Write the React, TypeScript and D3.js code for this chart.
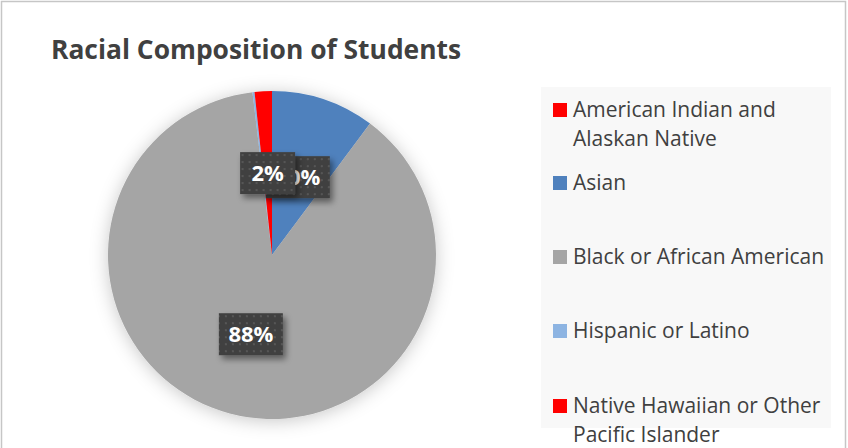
import React, { useEffect } from 'react'
import * as d3 from 'd3'

const categories = [
  'American Indian and Alaskan Native',
  'Asian',
  'Black or African American',
  'Hispanic or Latino',
  'Native Hawaiian or Other Pacific Islander',
]
const values = [0, 10.2, 87.9, 0.2, 1.7]
const colors = ['#FF0000', '#4F81BD', '#A5A5A5', '#8DB4E2', '#FF0000']
// legend lines as wrapped in the original
const legendLines = [
  ['American Indian and', 'Alaskan Native'],
  ['Asian'],
  ['Black or African American'],
  ['Hispanic or Latino'],
  ['Native Hawaiian or Other', 'Pacific Islander'],
]
const legendBaselines = [117, 190, 264, 338, 413]

const W = 848
const H = 448
const cx = 272
const cy = 255
const R = 164

export default function App() {
  useEffect(() => {
    document.body.style.margin = '0'
  }, [])

  const total = d3.sum(values)
  const pie = d3.pie<number>().sort(null).value(d => d)
  const arcs = pie(values)
  const arc = d3.arc<d3.PieArcDatum<number>>().innerRadius(0).outerRadius(R)
  const labelArc = d3.arc<d3.PieArcDatum<number>>().innerRadius(R * 0.5).outerRadius(R * 0.5)

  return (
    <svg width={W} height={H} style={{ display: 'block' }} fontFamily="'Open Sans', sans-serif">
      <defs>
        <filter id="glow" x="-30%" y="-30%" width="160%" height="160%">
          <feDropShadow dx="0" dy="2" stdDeviation="9" floodColor="#000" floodOpacity="0.22" />
        </filter>
        <filter id="boxShadow" x="-30%" y="-30%" width="170%" height="170%">
          <feDropShadow dx="3" dy="4" stdDeviation="3" floodColor="#000" floodOpacity="0.45" />
        </filter>
        <pattern id="dots" width="7" height="7" patternUnits="userSpaceOnUse">
          <rect width="7" height="7" fill="#404040" />
          <rect x="2" y="2" width="2" height="2" fill="#575757" />
        </pattern>
      </defs>
      <rect x={0} y={0} width={W} height={H} fill="#fff" />
      <rect x={1.5} y={1.5} width={844} height={H + 4} fill="none" stroke="#c6c6c6" strokeWidth={1.5} />

      <text x={51} y={59} fontSize={26.4} fontWeight={700} fill="#404040">
        Racial Composition of Students
      </text>

      <g transform={`translate(${cx},${cy})`}>
        <g filter="url(#glow)">
          {arcs.map((a, i) => (
            <path key={categories[i]} d={arc(a) || ''} fill={colors[i]} />
          ))}
        </g>
        {arcs.map((a, i) => {
          const pct = Math.round((values[i] / total) * 100)
          if (pct < 1) return null
          const [lx, ly] = labelArc.centroid(a)
          const label = pct + '%'
          const bw = label.length * 9 + 37
          const bh = 42
          return (
            <g key={'l' + i} transform={`translate(${lx},${ly})`}>
              <rect x={-bw / 2} y={-bh / 2} width={bw} height={bh} fill="url(#dots)" filter="url(#boxShadow)" />
              <text textAnchor="middle" dy="0.36em" fontSize={22} fontWeight={700} fill="#fff">
                {label}
              </text>
            </g>
          )
        })}
      </g>

      <rect x={541} y={87} width={290} height={341} fill="#f8f8f8" />
      {categories.map((c, i) => (
        <g key={c}>
          <rect x={553} y={legendBaselines[i] - 14} width={14} height={14} fill={colors[i]} />
          {legendLines[i].map((line, j) => (
            <text key={line} x={573} y={legendBaselines[i] + j * 29} fontSize={21} fill="#404040">
              {line}
            </text>
          ))}
        </g>
      ))}
    </svg>
  )
}
